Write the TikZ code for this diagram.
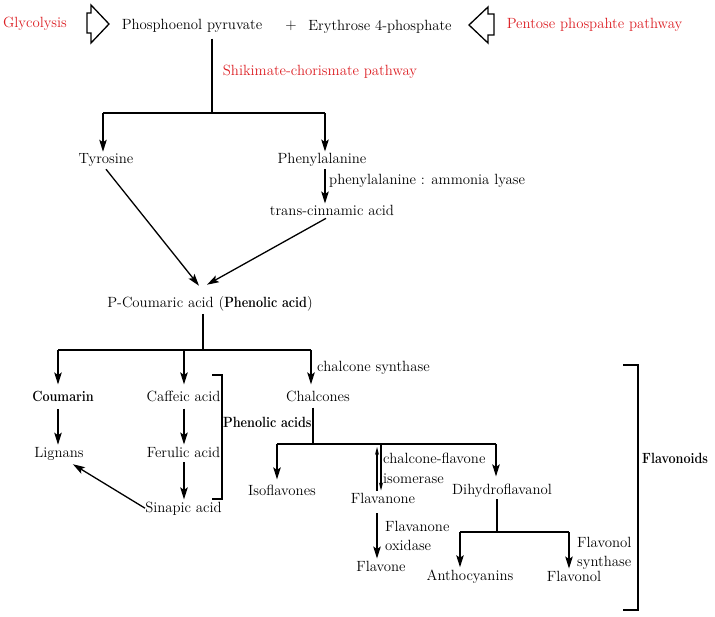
\documentclass[tikz,border=0pt]{standalone}
\usepackage{graphicx}
\usetikzlibrary{arrows.meta}
\definecolor{pathred}{RGB}{220,30,35}
\newcommand\narrowbold[1]{\scalebox{0.85}[1]{\bfseries #1}}
\begin{document}
\begin{tikzpicture}[x=1pt,y=-1pt,
  every node/.style={inner xsep=0pt, inner ysep=2pt, anchor=base, font=\fontsize{14.8}{17}\selectfont},
  lab/.style={anchor=base west},
  redlab/.style={text=pathred},
  ln/.style={line width=1.3pt},
  arr/.style={line width=1.3pt, -{Stealth[length=12pt,width=7.5pt,inset=2.5pt]}},
  sarr/.style={line width=1.1pt, -{Stealth[length=8pt,width=4pt]}},
  blk/.style={line width=1.3pt, line join=miter}]
\useasboundingbox (0,0) rectangle (715,617);

% texts
\node[redlab] (gly) at (35,28) {Glycolysis};
\node (pep) at (192,29.5) {Phosphoenol pyruvate};
\node (plus) at (291,30) {+};
\node (ery) at (380,30.5) {Erythrose 4-phosphate};
\node[redlab] (pen) at (594.5,29) {Pentose phospahte pathway};
\node[redlab] (shk) at (320,76) {Shikimate-chorismate pathway};
\node (tyr) at (106,164) {Tyrosine};
\node (phe) at (322,164) {Phenylalanine};
\node[lab] (pal) at (329,185) {phenylalanine : ammonia lyase};
\node (cin) at (332,216) {trans-cinnamic acid};
\node (pc) at (210,308) {P-Coumaric acid (\narrowbold{Phenolic acid})};
\node[lab] (chs) at (317,372) {chalcone synthase};
\node (cou) at (63,402) {\narrowbold{Coumarin}};
\node (caf) at (183.5,402) {Caffeic acid};
\node (chal) at (318,402) {Chalcones};
\node[lab] (phacids) at (223,428) {\narrowbold{Phenolic acids}};
\node (lig) at (59,457) {Lignans};
\node (fer) at (183.5,457) {Ferulic acid};
\node (sin) at (183.5,512) {Sinapic acid};
\node (iso) at (282,495) {Isoflavones};
\node[lab] (cfi1) at (383,464) {chalcone-flavone};
\node[lab] (cfi2) at (383,483) {isomerase};
\node (fla) at (383,503) {Flavanone};
\node (dih) at (502,494) {Dihydroflavanol};
\node[lab] (fo1) at (385,531) {Flavanone};
\node[lab] (fo2) at (385,550) {oxidase};
\node (flv) at (381,571) {Flavone};
\node (ant) at (470,580) {Anthocyanins};
\node (fol) at (574,581) {Flavonol};
\node[lab] (fs1) at (577,547) {Flavonol};
\node[lab] (fs2) at (577,566) {synthase};
\node[lab] (fnd) at (642,464) {\narrowbold{Flavonoids}};

% block arrows
\draw[blk] (87,13) -- (91,13) -- (91,5) -- (109,24) -- (91,43) -- (91,33) -- (87,33) -- cycle;
\draw[blk] (469,25) -- (488,7) -- (488,14) -- (494,14) -- (494,35) -- (488,35) -- (488,43) -- cycle;

% junctions
\coordinate (j0) at (212,113);
\coordinate (j0l) at (103,113);
\coordinate (j0r) at (325,113);
\coordinate (j1) at (203,350);
\coordinate (j1l) at (58,350);
\coordinate (j1m) at (184,350);
\coordinate (j1r) at (311,350);
\coordinate (j2) at (313,444);
\coordinate (j2l) at (277,444);
\coordinate (j2r) at (496,444);
\coordinate (rv1) at (377,444);
\coordinate (rv2) at (381,444);
\coordinate (j3) at (497,532);
\coordinate (j3l) at (460,532);
\coordinate (j3r) at (569,532);

% top part
\draw[ln, shorten <=4pt] (pep.south -| j0) -- (j0);
\draw[ln] (j0l) -- (j0r);
\draw[arr] (j0l) -- (j0l |- tyr.north);
\draw[arr] (j0r) -- (j0r |- phe.north);
\draw[arr] (j0r |- phe.south) -- (j0r |- cin.north);
\draw[arr] (tyr.south) -- ([xshift=-11pt,yshift=9pt]pc.north);
\draw[arr] ([xshift=-6pt]cin.south) -- ([xshift=-3pt,yshift=10pt]pc.north);

% p-coumaric branches
\draw[ln] (j1 |- pc.south) -- (j1);
\draw[ln] (j1l) -- (j1r);
\draw[arr, shorten >=5pt] (j1l) -- (j1l |- cou.north);
\draw[arr, shorten >=5pt] (j1m) -- (j1m |- caf.north);
\draw[arr, shorten >=5pt] (j1r) -- (j1r |- chal.north);
\draw[arr, shorten <=5pt] (cou.south -| j1l) -- (j1l |- lig.north);
\draw[arr, shorten <=4pt] (caf.south -| j1m) -- (j1m |- fer.north);
\draw[arr, shorten <=3pt] (fer.south -| j1m) -- (j1m |- sin.north);
\draw[arr] (sin.west) -- ([xshift=-11pt,yshift=-2pt]lig.south east);

% brackets
\draw[ln] (212,375) -- (222,375) -- (222,499) -- (212,499);
\draw[ln] (623,365) -- (638,365) -- (638,610) -- (623,610);

% chalcones
\draw[ln, shorten <=3pt] (chal.south -| j2) -- (j2);
\draw[ln] (j2l) -- (j2r);
\draw[arr, shorten >=3pt] (j2l) -- (j2l |- iso.north);
\draw[arr, shorten >=5pt] (j2r) -- (j2r |- dih.north);
\draw[sarr, shorten >=3pt] (rv1 |- fla.north) -- (rv1);
\draw[sarr] (rv2) -- (rv2 |- fla.north);
\draw[arr, shorten <=8pt] (rv1 |- fla.south) -- (rv1 |- flv.north);

% dihydroflavanol
\draw[ln] (j3 |- dih.south) -- (j3);
\draw[ln] (j3l) -- (j3r);
\draw[arr] (j3l) -- (j3l |- ant.north);
\draw[arr] (j3r) -- (j3r |- fol.north);
\end{tikzpicture}
\end{document}
